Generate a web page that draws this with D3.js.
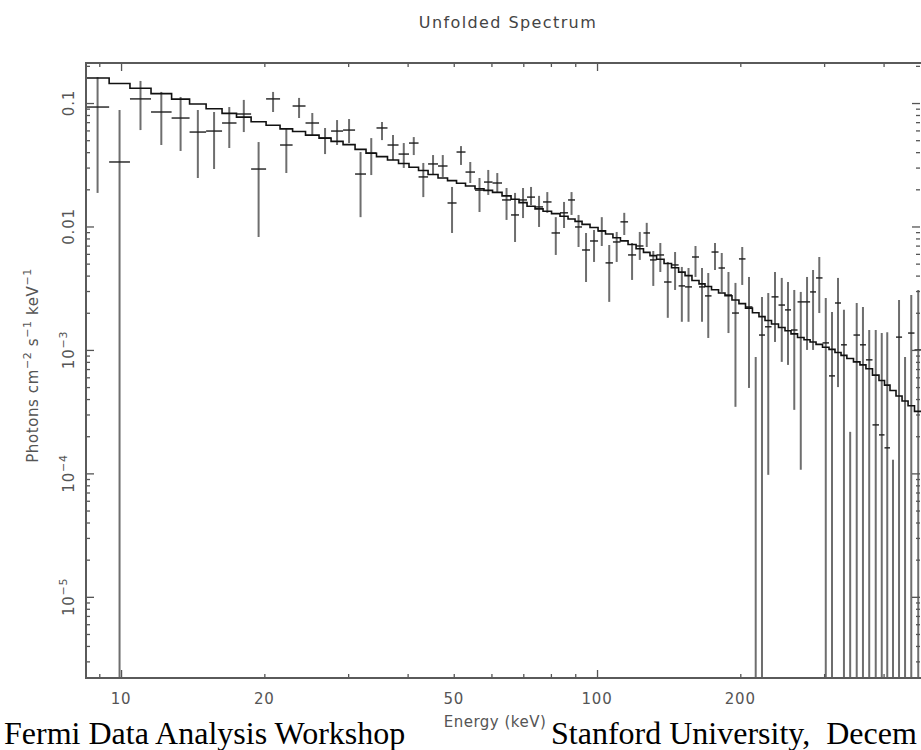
<!DOCTYPE html>
<html><head><meta charset="utf-8">
<script src="https://cdn.jsdelivr.net/npm/d3@7"></script>
<style>body{margin:0;background:#fff}svg{display:block}</style>
</head><body><svg id="c" width="921" height="750"></svg>
<script>
// Channel energy edges (keV)
const edges = [8.44, 9.44, 10.44, 11.56, 12.77, 13.93, 15.09, 16.30, 17.48, 18.76, 20.17, 21.58, 22.93, 24.41, 26.06, 27.62, 29.27, 31.02, 32.71, 34.41, 36.29, 38.28, 40.27, 42.17, 44.16, 46.34, 48.52, 50.68, 52.93, 55.42, 57.88, 60.32, 63.16, 65.97, 68.57, 71.28, 74.09, 77.02, 80.25, 83.61, 86.92, 89.91, 93.01, 96.67, 100.5, 104.2, 108.0, 112.0, 116.2, 120.8, 125.2, 129.2, 133.4, 138.3, 143.4, 148.4, 153.1, 158.3, 163.8, 168.6, 174.0, 180.0, 185.7, 192.1, 198.7, 205.1, 212.1, 218.9, 225.4, 232.6, 240.6, 248.3, 255.6, 263.8, 272.2, 280.3, 288.5, 297.7, 307.2, 316.2, 325.6, 334.9, 345.8, 356.8, 367.3, 379.1, 391.2, 401.8, 412.6, 424.8, 437.4, 450.3, 464.5, 481.7];
// Unfolded photon flux (photons cm^-2 s^-1 keV^-1); 0 = below plot
const flux = [0.0928, 0.0333, 0.108, 0.0846, 0.0756, 0.0582, 0.0593, 0.0689, 0.0815, 0.0292,
  0.108, 0.0457, 0.0946, 0.0689, 0.0520, 0.0593, 0.0604, 0.0266, 0.0394, 0.0628,
  0.0457, 0.0386, 0.0474, 0.0252, 0.0321, 0.0309, 0.0155, 0.0401, 0.0276, 0.0197,
  0.0229, 0.0225, 0.0164, 0.0124, 0.0164, 0.0173, 0.0144, 0.0158, 0.00886, 0.0129,
  0.0164, 0.00991, 0.00645, 0.00763, 0.00920, 0.00507, 0.00749, 0.0109, 0.00588, 0.00695,
  0.00886, 0.00536, 0.00588, 0.00355, 0.00488, 0.00330, 0.00324, 0.00566, 0.00324, 0.00274,
  0.00621, 0.00461, 0.00279, 0.00199, 0.00546, 0.00223, 0, 0.00132, 0.00154, 0.00269,
  0.00231, 0.00211, 0.00145, 0.00245, 0.00245, 0.00295, 0.00383, 0.00114, 0.000616, 0.00240,
  0.00110, 0, 0.00132, 0.00110, 0.000831, 0.000247, 0.000205, 0.000161, 0, 0.00127,
  0, 0.00137, 0.00100];
const fluxHi = [0.162, 0.0878, 0.151, 0.123, 0.112, 0.0878, 0.0846, 0.0928, 0.106, 0.0483,
  0.123, 0.0628, 0.110, 0.0830, 0.0628, 0.0728, 0.0742, 0.0401, 0.0520, 0.0702,
  0.0551, 0.0474, 0.0530, 0.0327, 0.0379, 0.0379, 0.0209, 0.0448, 0.0333, 0.0247,
  0.0287, 0.0271, 0.0205, 0.0187, 0.0205, 0.0209, 0.0177, 0.0190, 0.0119, 0.0158,
  0.0190, 0.0124, 0.00886, 0.00937, 0.0119, 0.00708, 0.00903, 0.0129, 0.00735, 0.00903,
  0.0107, 0.00633, 0.00735, 0.00516, 0.00621, 0.00470, 0.00461, 0.00695, 0.00461, 0.00420,
  0.00735, 0.00610, 0.00428, 0.00349, 0.00682, 0.00390, 0.000878, 0.00269, 0.00289, 0.00428,
  0.00383, 0.00355, 0.00306, 0.00295, 0.00390, 0.00444, 0.00566, 0.00264, 0.00203, 0.00383,
  0.00212, 0.000217, 0.00240, 0.00223, 0.00145, 0.00145, 0.00137, 0.00139, 0.000129, 0.00254,
  0.000878, 0.00279, 0.00306];
const fluxLo = [0.0187, 0, 0.0604, 0.0457, 0.0409, 0.0247, 0.0292, 0.0432, 0.0582, 0.00822,
  0.0846, 0.0271, 0.0756, 0.0551, 0.0386, 0.0457, 0.0474, 0.0119, 0.0261, 0.0501,
  0.0345, 0.0298, 0.0379, 0.0173, 0.0261, 0.0252, 0.00886, 0.0315, 0.0225, 0.0131,
  0.0180, 0.0187, 0.0113, 0.00749, 0.0117, 0.0149, 0.00991, 0.0129, 0.00588, 0.00972,
  0.0124, 0.00682, 0.00355, 0.00516, 0.00695, 0.00245, 0.00516, 0.00853, 0.00369, 0.00536,
  0.00682, 0.00330, 0.00428, 0.00182, 0.00306, 0.00169, 0.00169, 0.00390, 0.00169, 0.00125,
  0.00444, 0.00295, 0.00137, 0.000346, 0.00336, 0.000492, 0, 0, 0.0000973, 0.00116,
  0.000800, 0.000756, 0.000327, 0.000107, 0.00100, 0.00100, 0.00199, 0, 0, 0.00050,
  0, 0, 0, 0, 0, 0, 0, 0, 0, 0,
  0, 0, 0];
// Folded model, one value per channel
const model = [0.1594, 0.1441, 0.1318, 0.1191, 0.1075, 0.0981, 0.0899, 0.0825, 0.0769, 0.0706,
  0.0660, 0.0618, 0.0588, 0.0550, 0.0520, 0.0489, 0.0460, 0.0421, 0.0392, 0.0368,
  0.0346, 0.0324, 0.0302, 0.0284, 0.0264, 0.0247, 0.0235, 0.0224, 0.0213, 0.0202,
  0.0196, 0.0189, 0.0177, 0.0166, 0.0156, 0.0146, 0.0139, 0.0133, 0.0127, 0.0121,
  0.0115, 0.0110, 0.0104, 0.00980, 0.00921, 0.00868, 0.00811, 0.00764, 0.00715, 0.00661,
  0.00617, 0.00581, 0.00542, 0.00501, 0.00463, 0.00427, 0.00400, 0.00365, 0.00343, 0.00326,
  0.00307, 0.00289, 0.00275, 0.00254, 0.00237, 0.00218, 0.00200, 0.00186, 0.00173, 0.00162,
  0.00152, 0.00143, 0.00135, 0.00126, 0.00121, 0.00116, 0.00111, 0.00105, 0.00101, 0.000954,
  0.000903, 0.000853, 0.000800, 0.000756, 0.000704, 0.000625, 0.000565, 0.000519, 0.000469, 0.000423,
  0.000386, 0.000353, 0.000318];

const xTickValues = [10, 20, 50, 100, 200];
const xTickLabels = ["10", "20", "50", "100", "200"];
const yTickValues = [0.1, 0.01, 1e-3, 1e-4, 1e-5];
const yTickBase = ["0.1", "0.01", "10", "10", "10"];
const yTickExp = ["", "", "\u22123", "\u22124", "\u22125"];
const xMajor = [10, 100];
const xMinor = [9, 20, 30, 40, 50, 60, 70, 80, 90, 200, 300, 400];
const title = "Unfolded Spectrum";
const xTitle = "Energy (keV)";
const footerLeft = "Fermi Data Analysis Workshop";
const footerRight = "Stanford University,  Decem";

const W = 921, H = 750;
const L = 86, R = 922, T = 63, B = 678;
const x = d3.scaleLog().domain([edges[0], edges[edges.length - 1]]).range([L, R]);
const y = d3.scaleLog().domain([2.2e-6, 0.211]).range([B, T]);

const svg = d3.select("#c");
svg.append("rect").attr("width", W).attr("height", H).attr("fill", "#fff");
svg.append("defs").append("clipPath").attr("id", "pc")
  .append("rect").attr("x", L).attr("y", T).attr("width", R - L).attr("height", B - T);

const bins = flux.map((f, i) => ({
  lo: edges[i], hi: edges[i + 1], c: Math.sqrt(edges[i] * edges[i + 1]),
  f, fh: fluxHi[i], fl: fluxLo[i], m: model[i]
}));

const plot = svg.append("g").attr("clip-path", "url(#pc)");
plot.selectAll("line.v").data(bins).join("line").attr("class", "v")
  .attr("x1", d => x(d.c)).attr("x2", d => x(d.c))
  .attr("y1", d => y(d.fh)).attr("y2", d => d.fl > 0 ? y(d.fl) : B + 5)
  .attr("stroke", "#6e6e6e").attr("stroke-width", 2);
plot.selectAll("line.h").data(bins.filter(d => d.f > 0)).join("line").attr("class", "h")
  .attr("x1", d => x(d.lo)).attr("x2", d => x(d.hi))
  .attr("y1", d => y(d.f)).attr("y2", d => y(d.f))
  .attr("stroke", "#1e1e1e").attr("stroke-width", 1.4);
const stepPts = bins.map(d => [d.lo, d.m]);
stepPts.push([edges[edges.length - 1], model[model.length - 1]]);
plot.append("path").datum(stepPts)
  .attr("d", d3.line().x(d => x(d[0])).y(d => y(d[1])).curve(d3.curveStepAfter))
  .attr("fill", "none").attr("stroke", "#111").attr("stroke-width", 1.6);

// axes ticks (inward)
const tickCol = "#555";
function axisG(axis, tx, ty) {
  const g = svg.append("g").attr("transform", `translate(${tx},${ty})`).attr("color", tickCol).call(axis);
  g.select(".domain").remove();
  g.selectAll("text").remove();
  g.selectAll("line").attr("stroke-width", 1.3);
  return g;
}
axisG(d3.axisBottom(x).tickValues(xMajor).tickSizeInner(-8).tickFormat(""), 0, B);
axisG(d3.axisBottom(x).tickValues(xMinor).tickSizeInner(-4).tickFormat(""), 0, B);
axisG(d3.axisTop(x).tickValues(xMajor).tickSizeInner(-8).tickFormat(""), 0, T);
axisG(d3.axisTop(x).tickValues(xMinor).tickSizeInner(-4).tickFormat(""), 0, T);
const yMinor = [];
[1e-6, 1e-5, 1e-4, 1e-3, 1e-2, 1e-1].forEach(dec => { for (let k = 2; k <= 9; k++) { const v = dec * k; if (v > 2.2e-6 && v < 0.211) yMinor.push(v); } });
axisG(d3.axisLeft(y).tickValues(yTickValues).tickSizeInner(-8).tickFormat(""), L, 0);
axisG(d3.axisLeft(y).tickValues(yMinor).tickSizeInner(-4).tickFormat(""), L, 0);
axisG(d3.axisRight(y).tickValues(yTickValues).tickSizeInner(-8).tickFormat(""), R - 2, 0);
axisG(d3.axisRight(y).tickValues(yMinor).tickSizeInner(-4).tickFormat(""), R - 2, 0);

// frame
svg.append("rect").attr("x", L).attr("y", T).attr("width", R - L).attr("height", B - T)
  .attr("fill", "none").attr("stroke", "#5a5a5a").attr("stroke-width", 2);

const font = "'DejaVu Sans', sans-serif";
const txtCol = "#555";
// x tick labels
svg.selectAll("text.xt").data(xTickValues).join("text").attr("class", "xt")
  .attr("x", d => x(d)).attr("y", 704).attr("text-anchor", "middle")
  .attr("font-family", font).attr("font-size", 15).attr("letter-spacing", 0.8).attr("fill", txtCol)
  .text((d, i) => xTickLabels[i]);
// y tick labels (rotated)
yTickValues.forEach((v, i) => {
  const t = svg.append("text").attr("transform", `translate(74,${y(v)}) rotate(-90)`)
    .attr("text-anchor", "middle").attr("font-family", font).attr("font-size", 15)
    .attr("letter-spacing", 0.8).attr("fill", txtCol);
  t.append("tspan").text(yTickBase[i]);
  if (yTickExp[i]) t.append("tspan").attr("dy", -7).attr("font-size", 11).text(yTickExp[i]);
});
// y axis title
const yt = svg.append("text").attr("transform", `translate(38,${(T + B) / 2 - 5}) rotate(-90)`)
  .attr("text-anchor", "middle").attr("font-family", font).attr("font-size", 15)
  .attr("letter-spacing", 0.6).attr("fill", txtCol);
[["Photons cm", ""], ["\u22122", "s"], [" s", ""], ["\u22121", "s"], [" keV", ""], ["\u22121", "s"]].forEach(([s, k], i) => {
  const ts = yt.append("tspan").text(s);
  if (k === "s") ts.attr("dy", -7).attr("font-size", 11);
  else if (i > 0) ts.attr("dy", 7);
});
// titles
svg.append("text").attr("x", 508).attr("y", 28).attr("text-anchor", "middle")
  .attr("font-family", font).attr("font-size", 16).attr("letter-spacing", 1.4)
  .attr("fill", "#444").text(title);
svg.append("text").attr("x", 495).attr("y", 727).attr("text-anchor", "middle")
  .attr("font-family", font).attr("font-size", 15).attr("letter-spacing", 0.5)
  .attr("fill", txtCol).text(xTitle);
// slide footer
svg.append("text").attr("x", 4).attr("y", 744)
  .attr("font-family", "'Liberation Serif', serif").attr("font-size", 32).attr("fill", "#000").text(footerLeft);
svg.append("text").attr("x", 551).attr("y", 744).style("white-space", "pre")
  .attr("font-family", "'Liberation Serif', serif").attr("font-size", 32).attr("fill", "#000").text(footerRight);
</script>
</body></html>
